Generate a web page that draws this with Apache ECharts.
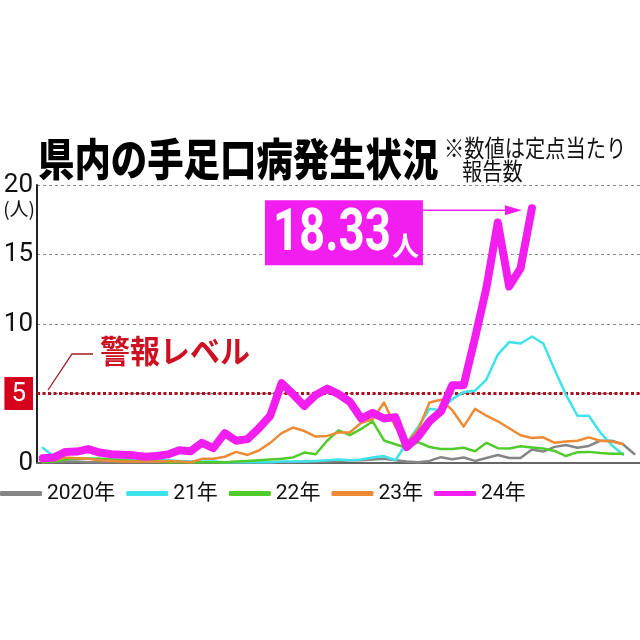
<!DOCTYPE html>
<html><head><meta charset="utf-8">
<script src="https://cdn.jsdelivr.net/npm/echarts@6/dist/echarts.min.js"></script>
<style>html,body{margin:0;padding:0;background:#fff}#c{width:640px;height:640px}</style>
</head><body><div id="c"></div>
<script>
const weekLabels = ['1','2','3','4','5','6','7','8','9','10','11','12','13','14','15','16','17','18','19','20','21','22','23','24','25','26','27','28','29','30','31','32','33','34','35','36','37','38','39','40','41','42','43','44','45','46','47','48','49','50','51','52','53'];
const seriesNames = ['2020年','21年','22年','23年','24年'];
const w2020 = [0.05,0.05,0.1,0.1,0.05,0.05,0.05,0.05,0.05,0.05, 0.05,0.05,0.05,0.05,0.05,0.05,0.05,0.05,0.05,0.05, 0.05,0.05,0.05,0.1,0.1,0.1,0.15,0.2,0.2,0.25, 0.3,0.2,0.1,0.05,0.15,0.42,0.27,0.4,0.15,0.36, 0.58,0.36,0.36,0.97,0.82,1.16,1.3,1.1,1.23,1.6, 1.6,1.35,0.65];
const w2021 = [1.1,0.45,0.35,0.35,0.3,0.3,0.25,0.25,0.2,0.2, 0.2,0.2,0.15,0.1,0.1,0.1,0.05,0.05,0.05,0.05, 0.05,0.1,0.1,0.1,0.15,0.2,0.25,0.2,0.25,0.4, 0.5,0.2,1.45,2.6,3.9,3.8,4.6,5.1,5.2,6.0, 7.8,8.7,8.6,9.1,8.6,6.7,4.9,3.4,3.4,2.2, 1.3,0.6];
const w2022 = [0.05,0.1,0.25,0.3,0.3,0.3,0.25,0.2,0.15,0.1, 0.1,0.05,0.05,0.05,0.05,0.05,0.05,0.1,0.15,0.2, 0.25,0.3,0.4,0.75,0.63,1.6,2.35,2.0,2.45,3.0, 1.62,1.35,1.1,1.5,1.15,1.0,1.0,1.1,0.85,1.45, 1.07,1.05,1.2,1.12,1.05,0.87,0.5,0.78,0.8,0.72, 0.67,0.67];
const w2023 = [0.1,0.2,0.4,0.35,0.3,0.2,0.15,0.1,0.1,0.1, 0.1,0.15,0.1,0.05,0.3,0.3,0.45,0.8,0.58,0.9, 1.45,2.15,2.55,2.3,1.9,1.95,2.2,2.2,2.9,3.15, 4.35,2.6,1.45,2.4,4.35,4.55,3.8,2.62,3.89,3.4, 3.0,2.5,2.0,1.8,1.85,1.45,1.55,1.6,1.84,1.6, 1.55,1.37];
const w2024 = [0.35,0.4,0.8,0.82,1.0,0.75,0.63,0.6,0.55,0.45, 0.5,0.62,0.92,0.85,1.45,1.07,2.15,1.6,1.72,2.5, 3.4,5.75,4.95,4.1,4.9,5.35,4.95,4.4,3.2,3.6, 3.2,3.3,1.15,1.9,3.0,3.7,5.6,5.6,9.0,12.6, 17.3,12.7,14.0,18.33];
const yTicks = [0,5,10,15,20];
const alertLevel = 5;
const latestLabel = '18.33';

const colors = ['#858585','#3ee2ea','#4fcc2c','#ec8a35','#f21ef0'];
const widths = [2.5,2.5,2.5,2.5,8];
const dataSets = [w2020,w2021,w2022,w2023,w2024];
const NUM = "Roboto, 'Noto Sans CJK JP', sans-serif";
const JP = "'Noto Sans CJK JP', sans-serif";

const chart = echarts.init(document.getElementById('c'), null, {renderer:'canvas'});
const series = dataSets.map((d,i)=>({
  name: seriesNames[i], type:'line', data:d, symbol:'none', smooth:false,
  lineStyle:{color:colors[i], width:widths[i], join:'round', cap:'round'},
  itemStyle:{color:colors[i]}, z: 3+i, silent:true,
  markLine: i===0 ? {silent:true, symbol:['none','none'], label:{show:false},
    lineStyle:{color:'#b0101c', width:3, type:[3,2.5]}, data:[{yAxis:alertLevel}], z:2} : undefined
}));
chart.setOption({
  animation:false, backgroundColor:'#fff',
  grid:{left:37,right:0,top:185,bottom:177,containLabel:false},
  xAxis:{type:'category', data:weekLabels, boundaryGap:true,
    axisLine:{lineStyle:{color:'#666',width:2}}, axisTick:{show:false}, axisLabel:{show:false}, splitLine:{show:false}},
  yAxis:{type:'value', min:yTicks[0], max:yTicks[yTicks.length-1], interval:5,
    name:'(人)', nameLocation:'end', nameGap:-24,
    nameTextStyle:{align:'right', verticalAlign:'middle', fontSize:19, color:'#111', fontFamily:JP, padding:[0,2,0,0]},
    axisLine:{show:true, lineStyle:{color:'#222',width:2}}, axisTick:{show:false},
    axisLabel:{margin:4, fontSize:26, color:'#111', fontFamily:NUM,
      formatter:v=> v===alertLevel ? '{r|'+v+'}' : String(v),
      rich:{r:{backgroundColor:'#d6001c', color:'#fff', fontSize:26, fontFamily:NUM, lineHeight:26, padding:[4,7,3,7]}}},
    splitLine:{show:true, lineStyle:{color:'#8a8a8a', type:[3,3], width:1}}},
  legend:{left:0, top:483, itemWidth:42, itemHeight:5, itemGap:11, icon:'roundRect', padding:0,
    data:seriesNames, textStyle:{fontSize:21, color:'#111', fontFamily:NUM}},
  series: series
});

const last = w2024.length-1;
const p = chart.convertToPixel({gridIndex:0}, [weekLabels[last], w2024[last]]);
chart.setOption({graphic:[
  {type:'text', x:38, y:137, scaleX:0.91, scaleY:1.12, z:10,
   style:{text:'県内の手足口病発生状況', font:"900 40px 'Noto Sans CJK JP'", fill:'#000', textVerticalAlign:'top'}},
  {type:'text', x:444, y:136, scaleX:0.92, scaleY:1.06, z:10,
   style:{text:'※数値は定点当たり', font:"22px 'Noto Sans CJK JP'", fill:'#111', textVerticalAlign:'top'}},
  {type:'text', x:462, y:159, scaleX:0.92, scaleY:1.06, z:10,
   style:{text:'報告数', font:"22px 'Noto Sans CJK JP'", fill:'#111', textVerticalAlign:'top'}},
  {type:'polyline', z:10, shape:{points:[[48,390],[72,354],[93,354]]}, style:{stroke:'#a01a22', lineWidth:1.3, fill:null}},
  {type:'text', x:100, y:351, scaleY:1.05, z:10,
   style:{text:'警報レベル', font:"bold 30px 'Noto Sans CJK JP'", fill:'#cc1122', textVerticalAlign:'middle'}},
  {type:'rect', z:10, shape:{x:p[0]-267, y:p[1]-8, width:158, height:65}, style:{fill:'#f21ef0'}},
  {type:'text', x:p[0]-259, y:p[1]+27, scaleX:0.76, z:11,
   style:{text:latestLabel, font:"bold 60px Roboto", fill:'#fff', textVerticalAlign:'middle'}},
  {type:'text', x:p[0]-140, y:p[1]+38, z:11,
   style:{text:'人', font:"bold 27px 'Noto Sans CJK JP'", fill:'#fff', textVerticalAlign:'middle'}},
  {type:'line', z:10, shape:{x1:p[0]-109, y1:p[1]+2, x2:p[0]-25, y2:p[1]+2}, style:{stroke:'#f21ef0', lineWidth:1.5}},
  {type:'polygon', z:10, shape:{points:[[p[0]-10,p[1]+2],[p[0]-27,p[1]-3],[p[0]-27,p[1]+7]]}, style:{fill:'#f21ef0'}}
]});
</script></body></html>
